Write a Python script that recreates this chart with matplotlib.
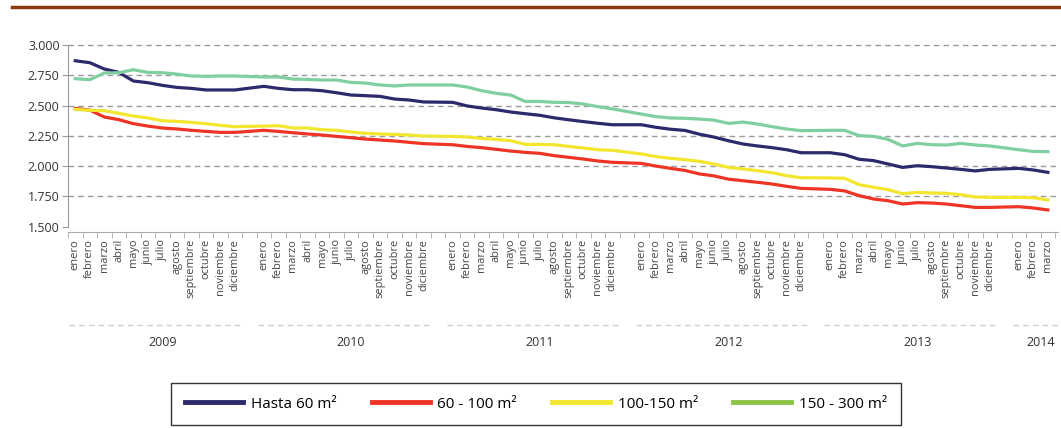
import matplotlib.pyplot as plt
import numpy as np
from matplotlib.lines import Line2D

plt.rcParams['font.family'] = ['Open Sans', 'DejaVu Sans']

meses = ['enero', 'febrero', 'marzo', 'abril', 'mayo', 'junio', 'julio',
         'agosto', 'septiembre', 'octubre', 'noviembre', 'diciembre']
anios = ['2009', '2010', '2011', '2012', '2013', '2014']
meses_por_anio = [12, 12, 12, 12, 12, 3]
niveles_y = [1500, 1750, 2000, 2250, 2500, 2750, 3000]

# precio medio por tamaño de vivienda, enero 2009 - marzo 2014
hasta_60 = [2870, 2854, 2802, 2774, 2703, 2689, 2667, 2650, 2642, 2629, 2629, 2629,
            2659, 2642, 2631, 2631, 2623, 2606, 2587, 2582, 2576, 2554, 2546, 2530,
            2527, 2497, 2480, 2466, 2447, 2433, 2420, 2399, 2383, 2368, 2354, 2342,
            2342, 2321, 2305, 2295, 2264, 2240, 2210, 2183, 2167, 2153, 2136, 2111,
            2111, 2095, 2057, 2046, 2018, 1990, 2004, 1996, 1985, 1974, 1961, 1974,
            1982, 1969, 1949]
de_60_100 = [2477, 2463, 2406, 2384, 2351, 2331, 2315, 2307, 2296, 2287, 2279, 2279,
             2296, 2287, 2276, 2266, 2257, 2246, 2235, 2224, 2216, 2208, 2197, 2186,
             2177, 2163, 2153, 2139, 2125, 2114, 2106, 2087, 2073, 2059, 2043, 2032,
             2023, 2001, 1982, 1965, 1936, 1920, 1893, 1880, 1867, 1853, 1834, 1817,
             1809, 1796, 1757, 1729, 1715, 1688, 1699, 1696, 1688, 1674, 1660, 1660,
             1666, 1655, 1639]
de_100_150 = [2469, 2461, 2458, 2436, 2414, 2398, 2375, 2370, 2361, 2351, 2337, 2326,
              2331, 2334, 2315, 2315, 2301, 2296, 2282, 2271, 2266, 2262, 2257, 2249,
              2246, 2241, 2229, 2221, 2210, 2180, 2180, 2177, 2163, 2150, 2136, 2131,
              2101, 2079, 2065, 2054, 2040, 2018, 1990, 1977, 1963, 1946, 1922, 1905,
              1903, 1900, 1848, 1826, 1806, 1773, 1784, 1779, 1776, 1765, 1746, 1743,
              1743, 1740, 1721]
de_150_300 = [2722, 2714, 2769, 2771, 2796, 2774, 2771, 2760, 2744, 2741, 2744, 2744,
              2736, 2736, 2719, 2716, 2711, 2711, 2691, 2686, 2670, 2662, 2670, 2670,
              2670, 2653, 2623, 2601, 2587, 2534, 2534, 2527, 2525, 2513, 2492, 2473,
              2430, 2409, 2398, 2395, 2389, 2380, 2353, 2364, 2348, 2326, 2307, 2293,
              2296, 2296, 2252, 2246, 2221, 2167, 2188, 2177, 2175, 2188, 2175, 2167,
              2136, 2122, 2120]

# (nombre, valores, color de la línea, color en la leyenda)
series = [('Hasta 60 m²', hasta_60, '#2c2a6c', '#2c2a6c'),
          ('60 - 100 m²', de_60_100, '#ee3424', '#ee3424'),
          ('100-150 m²', de_100_150, '#f3e62e', '#f3e62e'),
          ('150 - 300 m²', de_150_300, '#80cfa1', '#8cc449')]

# cada año ocupa 13 huecos: 12 meses y uno vacío de separación
x = []
etiquetas = []
inicio_anio = []
for k, n in enumerate(meses_por_anio):
    inicio_anio.append(13 * k)
    for m in range(n):
        x.append(13 * k + m)
        etiquetas.append(meses[m])
x = np.array(x)

fig = plt.figure(figsize=(10.61, 4.28), dpi=100)
ax = fig.add_axes([68 / 1061, 1 - 232 / 428, 990 / 1061, 187 / 428])

for nombre, valores, color, _ in series:
    ax.plot(x, valores, color=color, lw=2.3, solid_joinstyle='round', zorder=3)

ax.set_xlim(-0.5, 67.7)
ax.set_ylim(1457, 3000)

# rejilla discontinua
for v in niveles_y[1:]:
    ax.axhline(v, color='#9a9a9a', lw=1, ls=(0, (4, 3)), zorder=1, clip_on=False)

ax.set_yticks(niveles_y)
ax.set_yticklabels([f'{v:,}'.replace(',', '.') for v in niveles_y])
ax.tick_params(axis='y', length=4, color='#999999', labelsize=9, labelcolor='#333333', pad=2)

ax.set_xticks(x)
ax.set_xticklabels(etiquetas, rotation=90, fontsize=7.9, color='#444444', va='top')
ax.set_xticks(np.arange(-0.5, 68, 1), minor=True)
ax.tick_params(axis='x', which='major', length=0, pad=5)
ax.tick_params(axis='x', which='minor', length=4, color='#aaaaaa')

for lado in ['top', 'right']:
    ax.spines[lado].set_visible(False)
ax.spines['left'].set_color('#999999')
ax.spines['left'].set_bounds(1500, 3000)
ax.spines['bottom'].set_color('#aaaaaa')

# años debajo de los meses, con su línea discontinua
trans = ax.get_xaxis_transform()
y_linea = -(325 - 232) / 187
y_anio = -(342 - 232) / 187
for k, anio in enumerate(anios):
    s = inicio_anio[k] - 0.5
    fin = min(s + 12, 68.0)
    ax.plot([s + 0.1, fin], [y_linea, y_linea], transform=trans, color='#d0d0d0',
            lw=1, ls=(0, (4, 3)), clip_on=False)
    centro = s + 6.5 if meses_por_anio[k] == 12 else s + 2.0
    ax.text(centro, y_anio, anio, transform=trans, ha='center', va='center',
            fontsize=9, color='#333333')

# línea marrón superior
fig.add_artist(Line2D([12 / 1061, 1], [1 - 7 / 428, 1 - 7 / 428], color='#8b3a0e', lw=2.5))

handles = [Line2D([], [], color=lc, lw=3.5) for _, _, _, lc in series]
leg = fig.legend(handles, [s[0] for s in series], loc='center', ncol=4,
                 bbox_to_anchor=(536 / 1061, 1 - 404 / 428), frameon=True, fancybox=False,
                 edgecolor='black', fontsize=11, handlelength=3.8, handletextpad=0.5,
                 columnspacing=2.3, borderpad=0.9, borderaxespad=0)
leg.get_frame().set_linewidth(1)

fig.savefig('out.png', dpi=100)
